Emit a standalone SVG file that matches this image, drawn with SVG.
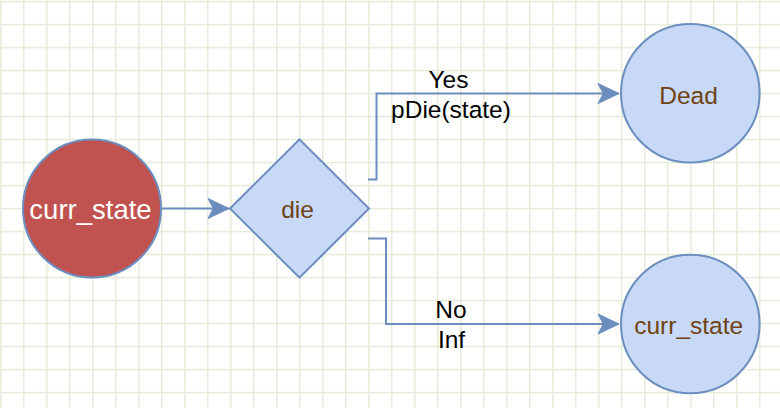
<svg xmlns="http://www.w3.org/2000/svg" width="780" height="408" viewBox="0 0 780 408">
<style>
.node{stroke:#6c8ebf;stroke-width:2}
.blue{fill:#c8d9f8}
.red{fill:#c0524f}
.lbl{font-family:"Liberation Sans",Arial,sans-serif;font-size:24.5px;text-anchor:middle}
.brown{fill:#6f4312}
.edge{fill:none;stroke:#6c8ebf;stroke-width:2}
.elbl{font-family:"Liberation Sans",Arial,sans-serif;font-size:24.5px;text-anchor:middle;fill:#000}
</style>
<defs>
<pattern id="grid" patternUnits="userSpaceOnUse" width="23" height="23">
<rect x="0" y="0" width="23" height="23" fill="#ffffff"/>
<rect x="0" y="0" width="1.5" height="23" fill="#e6ecda"/>
<rect x="0" y="0.85" width="23" height="1.5" fill="#e6ecda"/>
</pattern>
<marker id="arr" markerUnits="userSpaceOnUse" markerWidth="24" markerHeight="24" viewBox="-22 -12 24 24" refX="0" refY="0" orient="auto">
<path d="M0,0 L-21,-10 L-15.75,0 L-21,10 Z" fill="#6c8ebf" stroke="#6c8ebf" stroke-width="1"/>
</marker>
</defs>
<rect x="0" y="0" width="780" height="408" fill="url(#grid)"/>
<g id="connectors">
<path class="edge" d="M161,208.5 H229" marker-end="url(#arr)"/>
<path class="edge" d="M368,179.5 H376.5 V93.5 H619" marker-end="url(#arr)"/>
<path class="edge" d="M368,238.5 H386 V324 H619" marker-end="url(#arr)"/>
<text class="elbl" x="448.5" y="88">Yes</text>
<text class="elbl" x="451" y="118">pDie(state)</text>
<text class="elbl" x="451" y="318">No</text>
<text class="elbl" x="451.5" y="348">Inf</text>
</g>
<g id="start">
<circle class="node red" cx="92" cy="208.5" r="69"/>
<text class="lbl" x="90.5" y="219" fill="#ffffff" style="font-size:27.5px">curr_state</text>
</g>
<g id="die">
<path class="node blue" d="M230,208.5 L299.5,139.3 L369,208.5 L299.5,277.7 Z"/>
<text class="lbl brown" x="297.5" y="218">die</text>
</g>
<g id="dead">
<circle class="node blue" cx="690.3" cy="93.3" r="69.3"/>
<text class="lbl brown" x="688.5" y="104">Dead</text>
</g>
<g id="next">
<circle class="node blue" cx="690.3" cy="324" r="69.3"/>
<text class="lbl brown" x="688.7" y="334">curr_state</text>
</g>
</svg>
